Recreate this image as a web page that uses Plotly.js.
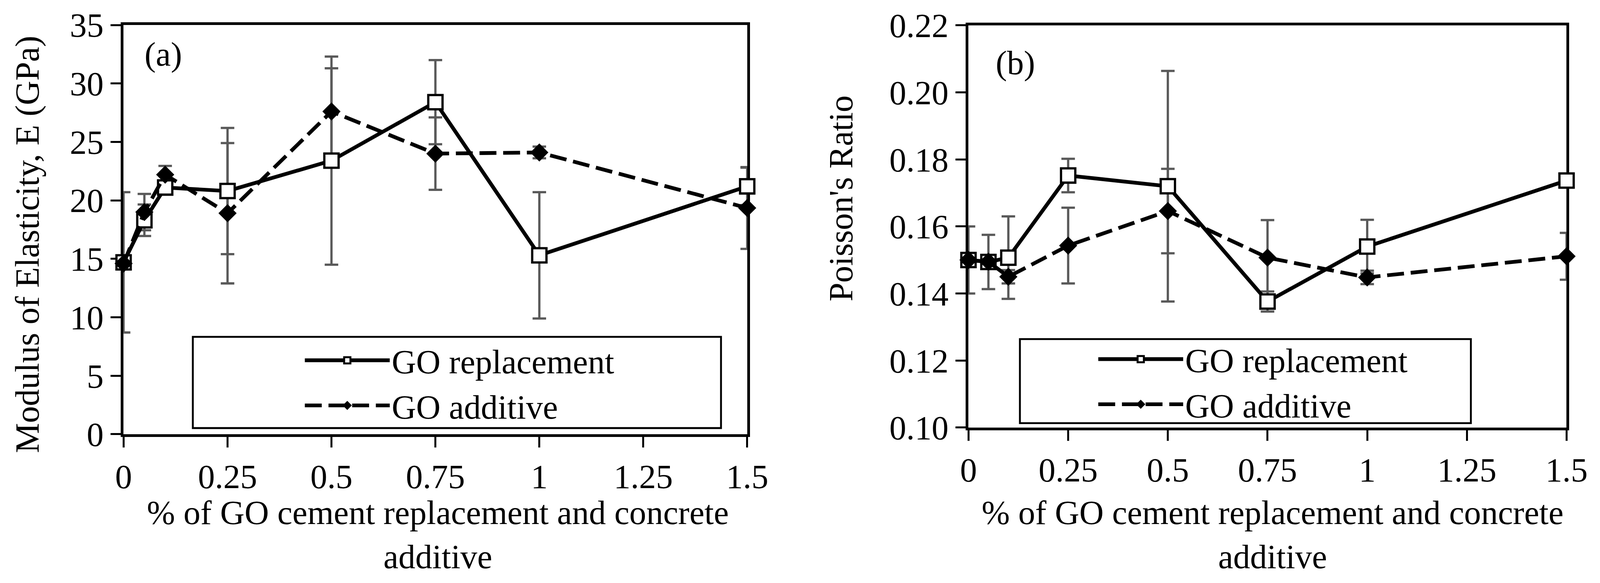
<!DOCTYPE html>
<html>
<head>
<meta charset="utf-8">
<script src="https://cdn.plot.ly/plotly-3.0.1.min.js"></script>
<style>
  html, body { margin: 0; padding: 0; background: #fff; overflow: hidden; }
</style>
</head>
<body>
<div id="chart"></div>
<script>
// GO dosage (%), shared by both panels
const goPct = [0, 0.05, 0.1, 0.25, 0.5, 0.75, 1, 1.5];

// (a) modulus of elasticity, GPa
const modRepl = [14.7, 18.3, 21.1, 20.8, 23.4, 28.4, 15.3, 21.2];
const modReplErr = [6.0, 1.35, 0.5, 5.4, 8.9, 3.6, 5.4, 1.6];
const modAdd = [14.6, 19.0, 22.2, 18.9, 27.6, 24.0, 24.1, 19.35];
const modAddErr = [0.4, 1.55, 0.75, 6.0, 3.7, 3.1, 0.5, 3.5];

// (b) Poisson's ratio
const poisRepl = [0.150, 0.1494, 0.1507, 0.1752, 0.172, 0.1376, 0.154, 0.1737];
const poisReplErr = [0.010, 0.0081, 0.0123, 0.005, 0.0344, 0.003, 0.008, 0.002];
const poisAdd = [0.150, 0.1495, 0.145, 0.1543, 0.1646, 0.1507, 0.1448, 0.1511];
const poisAddErr = [0.0, 0.0, 0.002, 0.0113, 0.0126, 0.0112, 0.002, 0.007];

const xTitle = '% of GO cement replacement and concrete<br>additive';

// the window may be smaller in CSS px than 4259x1493, so size to it and scale px values
const W = window.innerWidth || 4259;
const H = window.innerHeight || 1493;
const S = Math.min(W / 4259, H / 1493);
const px = v => v * S;

const FONT = '"Liberation Serif", "Times New Roman", serif';
const FS = px(90);
const BLACK = '#000000';
const ERR = '#595959';

// error bars go in their own traces first so markers sit on top of them
function errTrace(xa, ya, y, err) {
  return {
    x: goPct, y, xaxis: xa, yaxis: ya, type: 'scatter', mode: 'markers',
    marker: { size: 1, opacity: 0 }, showlegend: false, hoverinfo: 'skip', cliponaxis: false,
    error_y: { type: 'data', array: err, visible: true, color: ERR, thickness: px(6), width: px(18) },
  };
}
function replTrace(xa, ya, y, legend) {
  return {
    x: goPct, y, xaxis: xa, yaxis: ya, type: 'scatter', mode: 'lines+markers', name: 'GO replacement',
    legend, cliponaxis: false,
    line: { color: BLACK, width: px(10) },
    marker: { symbol: 'square', size: px(38), color: '#ffffff', line: { color: BLACK, width: px(6) } },
  };
}
function addTrace(xa, ya, y, legend) {
  return {
    x: goPct, y, xaxis: xa, yaxis: ya, type: 'scatter', mode: 'lines+markers', name: 'GO additive',
    legend, cliponaxis: false,
    line: { color: BLACK, width: px(10), dash: `${px(45)}px,${px(18)}px` },
    marker: { symbol: 'diamond', size: px(35), color: BLACK, line: { color: BLACK, width: px(2) } },
  };
}

const traces = [
  errTrace('x', 'y', modRepl, modReplErr),
  errTrace('x', 'y', modAdd, modAddErr),
  replTrace('x', 'y', modRepl, 'legend'),
  addTrace('x', 'y', modAdd, 'legend'),
  errTrace('x2', 'y2', poisRepl, poisReplErr),
  errTrace('x2', 'y2', poisAdd, poisAddErr),
  replTrace('x2', 'y2', poisRepl, 'legend2'),
  addTrace('x2', 'y2', poisAdd, 'legend2'),
];

const axisBase = {
  showgrid: false, zeroline: false, showline: true, linecolor: BLACK, linewidth: px(7), mirror: true,
  ticks: 'outside', ticklen: px(28), tickwidth: px(5), tickcolor: BLACK, layer: 'below traces',
  tickfont: { family: FONT, size: FS, color: BLACK },
};
const xBase = { ...axisBase, range: [0, 1.5], tick0: 0, dtick: 0.25, ticklabelstandoff: px(6) };
const yBase = { ...axisBase, ticklabelstandoff: px(30) };

const legendBase = {
  font: { family: FONT, size: FS, color: BLACK }, bgcolor: 'rgba(0,0,0,0)', borderwidth: 0,
  itemwidth: px(226), xanchor: 'left', yanchor: 'middle', tracegroupgap: 0,
};

function box(xa, ya, x0, x1, y0, y1) {
  return {
    type: 'rect', xref: xa + ' domain', yref: ya + ' domain', x0, x1, y0, y1,
    line: { color: BLACK, width: px(5) }, fillcolor: '#ffffff', layer: 'below',
  };
}
function label(text, x, y, extra = {}) {
  return { text, x, y, xref: 'paper', yref: 'paper', xanchor: 'center', yanchor: 'middle',
    showarrow: false, font: { family: FONT, size: FS, color: BLACK }, ...extra };
}

const layout = {
  width: W, height: H,
  margin: { l: 0, r: 0, t: 0, b: 0 },
  paper_bgcolor: '#ffffff', plot_bgcolor: '#ffffff',
  font: { family: FONT, size: FS, color: BLACK },
  xaxis: { ...xBase, domain: [0.07725, 0.4670], anchor: 'y' },
  yaxis: { ...yBase, domain: [0.2552, 0.9571], range: [0, 35], tick0: 0, dtick: 5, anchor: 'x' },
  xaxis2: { ...xBase, domain: [0.6053, 0.9791], anchor: 'y2' },
  yaxis2: { ...yBase, domain: [0.2666, 0.9565], range: [0.10, 0.22], tick0: 0.10, dtick: 0.02, tickformat: '.2f', anchor: 'x2' },
  legend: { ...legendBase, x: 0.1893, y: 0.343 },
  legend2: { ...legendBase, x: 0.6852, y: 0.345 },
  shapes: [
    box('x', 'y', 0.111, 0.958, 0.015, 0.238),
    box('x2', 'y2', 0.086, 0.840, 0.011, 0.220),
  ],
  annotations: [
    label('(a)', 0.1021, 0.9069),
    label('(b)', 0.6347, 0.8920),
    label('Modulus of Elasticity, E (GPa)', 0.0170, 0.581, { textangle: -90 }),
    label("Poisson's Ratio", 0.5255, 0.660, { textangle: -90 }),
    label(xTitle, 0.2738, 0.0824),
    label(xTitle, 0.7953, 0.0824),
  ],
  showlegend: true,
};

Plotly.newPlot('chart', traces, layout, { displayModeBar: false, responsive: false });
</script>
</body>
</html>
